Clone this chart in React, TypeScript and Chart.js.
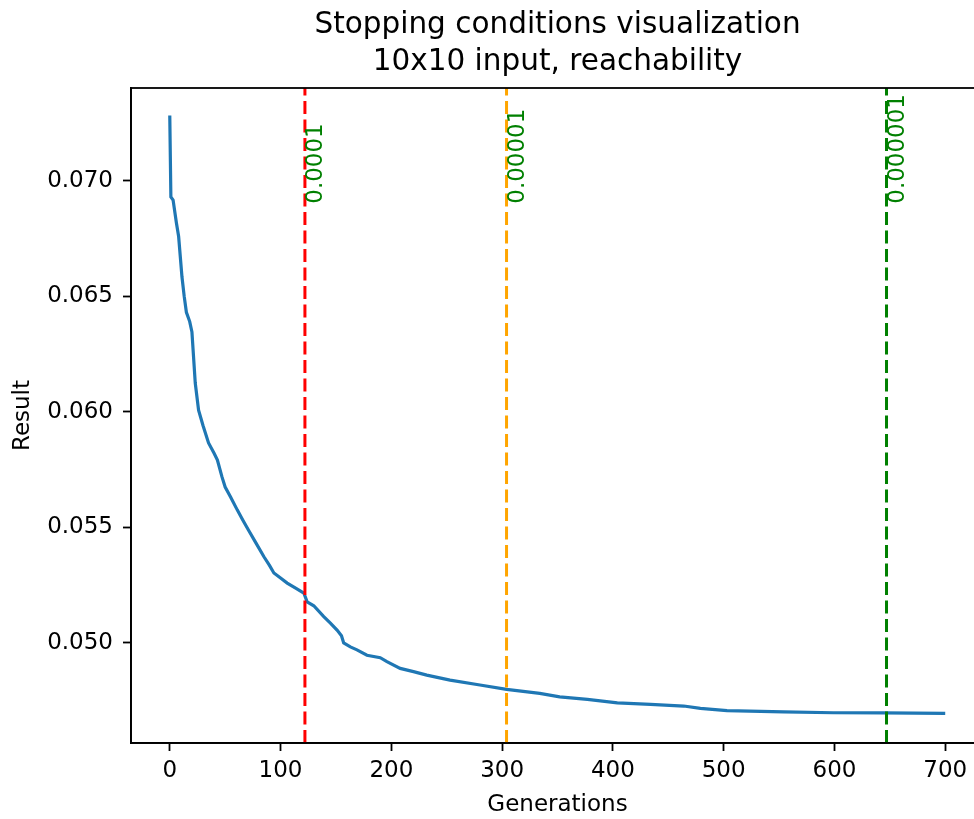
import React, { useEffect, useRef } from "react";
import { Chart, registerables } from "chart.js";

Chart.register(...registerables);

const generations = [0, 1, 3, 6, 8, 11, 13, 15, 18, 20, 23, 26, 30, 35, 40, 43, 47, 50, 55, 61, 66, 71, 78, 85, 90, 94, 100, 106, 114, 121, 124, 130, 139, 145, 151, 155, 157, 163, 169, 178, 190, 196, 208, 220, 232, 253, 280, 304, 334, 352, 377, 404, 434, 464, 479, 503, 554, 599, 644, 700];
const results = [0.07282, 0.06929, 0.06916, 0.06817, 0.06758, 0.06584, 0.065, 0.0643, 0.0639, 0.06345, 0.06124, 0.06007, 0.0594, 0.05865, 0.0582, 0.05791, 0.0572, 0.05674, 0.0563, 0.05574, 0.0553, 0.05488, 0.0543, 0.05372, 0.05335, 0.05302, 0.0528, 0.05258, 0.05235, 0.05215, 0.05177, 0.0516, 0.05113, 0.05085, 0.05055, 0.0503, 0.04999, 0.04982, 0.04969, 0.04946, 0.04935, 0.04918, 0.04889, 0.04875, 0.0486, 0.04838, 0.04817, 0.04798, 0.04781, 0.04766, 0.04755, 0.0474, 0.04733, 0.04726, 0.04716, 0.04706, 0.04701, 0.04697, 0.04696, 0.04694];

const thresholdGens = [122, 304, 647];
const thresholdLabels = ["0.0001", "0.00001", "0.000001"];
const thresholdColors = ["#ff0000", "#ffa500", "#008000"];
const thresholdLabelY = 0.069;

const titleLines = ["Stopping conditions visualization", "10x10 input, reachability"];

const xTicks = [0, 100, 200, 300, 400, 500, 600, 700];
const yTicks = [0.05, 0.055, 0.06, 0.065, 0.07];

const X_MIN = -35;
const X_MAX = 735;
const Y_MIN = 0.04566;
const Y_MAX = 0.07401;

const FONT = "'DejaVu Sans', sans-serif";

export default function App() {
  const canvasRef = useRef<HTMLCanvasElement | null>(null);

  useEffect(() => {
    document.body.style.overflow = "hidden";
    const canvas = canvasRef.current;
    if (!canvas) return;

    const framePlugin = {
      id: "frame",
      afterDraw(chart: any) {
        const { ctx, chartArea } = chart;
        const xs = chart.scales.x;
        const ys = chart.scales.y;
        ctx.save();
        // title centred over the axes
        ctx.fillStyle = "#000";
        ctx.font = `29.5px ${FONT}`;
        ctx.textAlign = "center";
        ctx.textBaseline = "middle";
        const cx = (chartArea.left + chartArea.right) / 2;
        titleLines.forEach((t, i) => {
          ctx.fillText(t, cx, chartArea.top - 63 + i * 37);
        });
        // threshold labels
        ctx.fillStyle = "#008000";
        ctx.font = `23px ${FONT}`;
        ctx.textAlign = "left";
        ctx.textBaseline = "top";
        thresholdGens.forEach((g, i) => {
          const px = xs.getPixelForValue(g);
          const py = ys.getPixelForValue(thresholdLabelY);
          ctx.save();
          ctx.translate(px, py);
          ctx.rotate(-Math.PI / 2);
          ctx.fillText(thresholdLabels[i], 0, 0);
          ctx.restore();
        });
        // frame
        ctx.strokeStyle = "#000";
        ctx.lineWidth = 1.8;
        ctx.strokeRect(chartArea.left, chartArea.top, chartArea.right - chartArea.left, chartArea.bottom - chartArea.top);
        ctx.restore();
      },
    };

    const datasets: any[] = [
      {
        data: generations.map((g, i) => ({ x: g, y: results[i] })),
        borderColor: "#1f77b4",
        borderWidth: 3.2,
        pointRadius: 0,
        tension: 0,
        fill: false,
        order: 2,
      },
    ];
    thresholdGens.forEach((g, i) => {
      datasets.push({
        data: [
          { x: g, y: Y_MIN },
          { x: g, y: Y_MAX },
        ],
        borderColor: thresholdColors[i],
        borderWidth: 3,
        borderDash: [13, 5.5],
        pointRadius: 0,
        fill: false,
        order: 1,
      });
    });

    const chart = new Chart(canvas, {
      type: "line",
      data: { datasets },
      options: {
        animation: false,
        responsive: false,
        maintainAspectRatio: false,
        layout: { padding: { left: 0, right: 16, top: 88, bottom: 0 } },
        plugins: {
          legend: { display: false },
          tooltip: { enabled: false },
          title: { display: false },
        },
        scales: {
          x: {
            type: "linear",
            min: X_MIN,
            max: X_MAX,
            afterBuildTicks: (scale: any) => {
              scale.ticks = xTicks.map((v) => ({ value: v }));
            },
            afterFit: (scale: any) => {
              scale.height = 76;
            },
            ticks: {
              color: "#000",
              font: { family: FONT, size: 23 },
              padding: 6,
              maxRotation: 0,
              autoSkip: false,
              callback: (v: any) => String(v),
            },
            grid: {
              drawOnChartArea: false,
              drawTicks: true,
              tickLength: 8,
              tickWidth: 1.8,
              tickColor: "#000",
            },
            border: { display: true, color: "#000", width: 1.8 },
            title: {
              display: true,
              text: "Generations",
              color: "#000",
              font: { family: FONT, size: 23, lineHeight: 1.2 },
              padding: { top: 0, bottom: 0 },
            },
          },
          y: {
            type: "linear",
            min: Y_MIN,
            max: Y_MAX,
            afterBuildTicks: (scale: any) => {
              scale.ticks = yTicks.map((v) => ({ value: v }));
            },
            afterFit: (scale: any) => {
              scale.width = 131;
            },
            ticks: {
              color: "#000",
              font: { family: FONT, size: 23 },
              padding: 10,
              autoSkip: false,
              callback: (v: any) => Number(v).toFixed(3),
            },
            grid: {
              drawOnChartArea: false,
              drawTicks: true,
              tickLength: 8,
              tickWidth: 1.8,
              tickColor: "#000",
            },
            border: { display: true, color: "#000", width: 1.8 },
            title: {
              display: true,
              text: "Result",
              color: "#000",
              font: { family: FONT, size: 23, lineHeight: 1.2 },
              padding: { top: 9, bottom: 0 },
            },
          },
        },
      },
      plugins: [framePlugin],
    } as any);

    return () => {
      chart.destroy();
    };
  }, []);

  return (
    <div style={{ position: "absolute", left: 0, top: 0, width: 1000, height: 819, background: "#fff" }}>
      <canvas ref={canvasRef} width={1000} height={819} style={{ display: "block", width: 1000, height: 819 }} />
    </div>
  );
}
